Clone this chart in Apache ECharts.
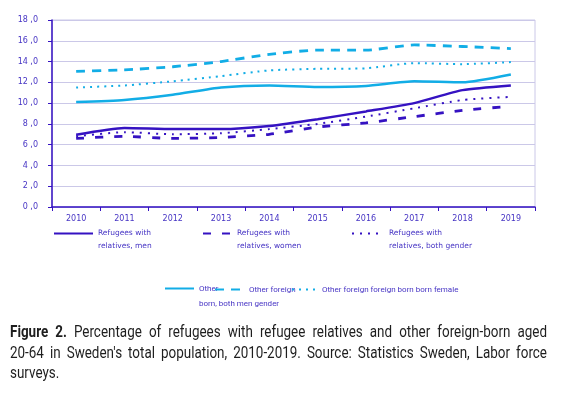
<!DOCTYPE html>
<html>
<head>
<meta charset="utf-8">
<script src="https://cdn.jsdelivr.net/npm/echarts@6/dist/echarts.min.js"></script>
<style>
html,body{margin:0;padding:0;background:#fff;}
#chart{width:572px;height:395px;}
</style>
</head>
<body>
<div id="chart"></div>
<script>
// ---- data ----
const years = ['2010','2011','2012','2013','2014','2015','2016','2017','2018','2019'];
const yTicks = [0,2,4,6,8,10,12,14,16,18];
const refugeesMen   = [6.95, 7.6, 7.5, 7.5, 7.8, 8.45, 9.2, 10.0, 11.25, 11.7];
const refugeesWomen = [6.6, 6.8, 6.6, 6.7, 7.0, 7.7, 8.1, 8.7, 9.3, 9.7];
const refugeesBoth  = [6.8, 7.2, 7.0, 7.1, 7.5, 8.0, 8.7, 9.5, 10.3, 10.6];
const otherSolid    = [10.1, 10.3, 10.8, 11.5, 11.7, 11.55, 11.65, 12.1, 12.0, 12.75];
const otherDashed   = [13.05, 13.2, 13.5, 14.0, 14.7, 15.1, 15.1, 15.6, 15.45, 15.25];
const otherDotted   = [11.5, 11.7, 12.1, 12.6, 13.15, 13.3, 13.35, 13.85, 13.75, 13.95];
const seriesNames = [
  'Refugees with\nrelatives, men',
  'Refugees with\nrelatives, women',
  'Refugees with\nrelatives, both gender',
  'Other\nborn, both men gender',
  'Other foreign',
  'Other foreign foreign born born female'
];
const captionLines = [
  'Figure 2. Percentage of refugees with refugee relatives and other foreign-born aged',
  "20-64 in Sweden's total population, 2010-2019. Source: Statistics Sweden, Labor force",
  'surveys.'
];

// ---- styles ----
const DARK = '#3512C2';
const LIGHT = '#12ADE6';
const TXT = '#4634C4';
const GRIDC = '#CBC8E8';

const chart = echarts.init(document.getElementById('chart'), null, {renderer:'canvas'});

// caption (condensed look via horizontal scale, justified lines)
const capSize = 16;
const capSX = 0.84;
const cvs = document.createElement('canvas').getContext('2d');
function capFont(bold){ return (bold?'bold ':'normal ') + capSize + 'px Roboto'; }
function wWidth(t, bold){ cvs.font = capFont(bold); return cvs.measureText(t).width * capSX; }
const graphics = [];
function addLine(line, y, justify, boldCount){
  const words = line.split(' ');
  const x0 = 10, x1 = 547;
  const widths = words.map((w,i)=>wWidth(w, i<boldCount));
  const sum = widths.reduce((a,b)=>a+b,0);
  const gap = justify ? (x1-x0-sum)/(words.length-1) : wWidth(' ', false);
  let x = x0;
  words.forEach((w,i)=>{
    graphics.push({type:'text', x:x, y:y, scaleX:capSX,
      style:{text:w, font:capFont(i<boldCount), fill:'#1e1e1e', verticalAlign:'middle', align:'left'}});
    x += widths[i] + gap;
  });
}
addLine(captionLines[0], 333, true, 2);
addLine(captionLines[1], 354, true, 0);
addLine(captionLines[2], 374, false, 0);

function legendAt(name, left, top, itemWidth, font, size, lh){
  return {
    data:[name], left:left, top:top, padding:0, itemWidth:itemWidth, itemHeight:10,
    selectedMode:false,
    itemStyle:{opacity:0, borderWidth:0},
    formatter: n => n.indexOf('\n') >= 0 ? '\n' + n : n,
    textStyle:{color:TXT, fontFamily:font, fontSize:size, lineHeight:lh}
  };
}
const F1 = '"DejaVu Sans", sans-serif';
const F2 = 'Roboto, sans-serif';

const option = {
  animation:false,
  backgroundColor:'#fff',
  grid:{left:52, right:37, top:20, bottom:188, show:true, borderColor:GRIDC, borderWidth:1},
  xAxis:{
    type:'category', data:years, boundaryGap:true,
    axisLine:{lineStyle:{color:DARK, width:1.5}},
    axisTick:{show:true, length:4, lineStyle:{color:DARK}},
    axisLabel:{color:TXT, fontFamily:F1, fontSize:8, margin:8}
  },
  yAxis:{
    type:'value', min:yTicks[0], max:yTicks[yTicks.length-1], interval:2,
    axisLine:{show:true, lineStyle:{color:DARK, width:1.5}},
    axisTick:{show:true, length:4, lineStyle:{color:DARK}},
    splitLine:{lineStyle:{color:GRIDC, width:1}},
    axisLabel:{color:TXT, fontFamily:F1, fontSize:8, margin:14,
      formatter:v=>v.toFixed(0)+' ,0'}
  },
  legend:[
    legendAt(seriesNames[0], 53, 214, 39, F1, 7.5, 13),
    legendAt(seriesNames[1], 202, 214, 29, F1, 7.5, 13),
    legendAt(seriesNames[2], 351, 214, 32, F1, 7.5, 13),
    legendAt(seriesNames[3], 164, 266, 29, F2, 8, 15),
    legendAt(seriesNames[4], 214, 282, 29, F2, 8, 15),
    legendAt(seriesNames[5], 291, 282, 25, F2, 8, 15)
  ],
  graphic:graphics,
  series:[
    {name:seriesNames[0], type:'line', data:refugeesMen, smooth:0.2, showSymbol:false, symbol:'none',
      lineStyle:{color:DARK, width:2.5}, itemStyle:{color:DARK}},
    {name:seriesNames[1], type:'line', data:refugeesWomen, smooth:0.2, showSymbol:false, symbol:'none',
      lineStyle:{color:DARK, width:2.8, type:[8,11]}, itemStyle:{color:DARK}},
    {name:seriesNames[2], type:'line', data:refugeesBoth, smooth:0.2, showSymbol:false, symbol:'none',
      lineStyle:{color:DARK, width:2, type:[2,6]}, itemStyle:{color:DARK}},
    {name:seriesNames[3], type:'line', data:otherSolid, smooth:0.2, showSymbol:false, symbol:'none',
      lineStyle:{color:LIGHT, width:2.5}, itemStyle:{color:LIGHT}},
    {name:seriesNames[4], type:'line', data:otherDashed, smooth:0.2, showSymbol:false, symbol:'none',
      lineStyle:{color:LIGHT, width:2.8, type:[9,7]}, itemStyle:{color:LIGHT}},
    {name:seriesNames[5], type:'line', data:otherDotted, smooth:0.2, showSymbol:false, symbol:'none',
      lineStyle:{color:LIGHT, width:2, type:[2,5]}, itemStyle:{color:LIGHT}}
  ]
};
chart.setOption(option);
</script>
</body>
</html>
